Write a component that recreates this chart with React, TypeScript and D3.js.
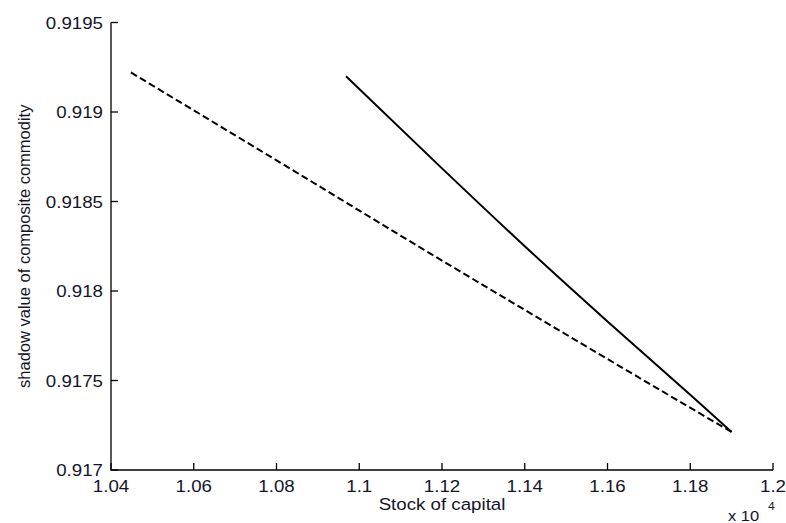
import React from 'react';
import * as d3 from 'd3';

// x values are in units of 10^4
const solidX = [1.0968, 1.12, 1.14, 1.16, 1.18, 1.19];
const solidY = [0.9192, 0.918685, 0.91825, 0.91783, 0.91742, 0.917212];

const dashX = [1.0448, 1.08, 1.12, 1.1393, 1.16, 1.19];
const dashY = [0.919221, 0.91873, 0.91817, 0.917904, 0.91762, 0.917212];

const xTicks = [1.04, 1.06, 1.08, 1.1, 1.12, 1.14, 1.16, 1.18, 1.2];
const xTickLabels = ['1.04', '1.06', '1.08', '1.1', '1.12', '1.14', '1.16', '1.18', '1.2'];
const yTicks = [0.917, 0.9175, 0.918, 0.9185, 0.919, 0.9195];
const yTickLabels = ['0.917', '0.9175', '0.918', '0.9185', '0.919', '0.9195'];

const W = 786;
const H = 523;
const margin = { top: 22.5, right: 13, bottom: 53, left: 111 };
const font = '"Liberation Sans", Arial, sans-serif';
const sx = 1.1; // reference text looks a bit wider than tall

const App = () => {
  const x = d3.scaleLinear().domain([1.04, 1.2]).range([margin.left, W - margin.right]);
  const y = d3.scaleLinear().domain([0.917, 0.9195]).range([H - margin.bottom, margin.top]);

  const path = (xs: number[], ys: number[]) =>
    d3
      .line<[number, number]>()
      .x(d => x(d[0]))
      .y(d => y(d[1]))
      .curve(d3.curveMonotoneX)(xs.map((v, i) => [v, ys[i]] as [number, number])) || '';

  const [x0, x1] = x.range();
  const [y0, y1] = y.range();

  return (
    <svg
      width={W}
      height={H}
      style={{ position: 'absolute', left: 0, top: 0, background: '#fff' }}
      fontFamily={font}
    >
      {/* axes */}
      <path d={`M${x0},${y1}V${y0}H${x1}`} fill="none" stroke="#000" strokeWidth={1.3} />
      {yTicks.map((t, i) => (
        <g key={'y' + i}>
          <line x1={x0} x2={x0 + 7} y1={y(t)} y2={y(t)} stroke="#000" strokeWidth={1.3} />
          <text
            transform={`translate(${x0 - 8},${y(t) + 6}) scale(${sx},1)`}
            textAnchor="end"
            fontSize={17}
            fill="#15152a"
          >
            {yTickLabels[i]}
          </text>
        </g>
      ))}
      {xTicks.map((t, i) => (
        <g key={'x' + i}>
          <line x1={x(t)} x2={x(t)} y1={y0} y2={y0 - 7} stroke="#000" strokeWidth={1.3} />
          <text
            transform={`translate(${x(t)},${y0 + 22}) scale(${sx},1)`}
            textAnchor="middle"
            fontSize={17}
            fill="#15152a"
          >
            {xTickLabels[i]}
          </text>
        </g>
      ))}

      {/* exponent */}
      <text transform={`translate(728,521) scale(${sx},1)`} fontSize={15} fill="#15152a">
        x 10
      </text>
      <text transform={`translate(768,510) scale(${sx},1)`} fontSize={11} fill="#15152a">
        4
      </text>

      {/* axis labels */}
      <text
        transform={`translate(${(x0 + x1) / 2},510) scale(${sx},1)`}
        textAnchor="middle"
        fontSize={17}
        fill="#15152a"
      >
        Stock of capital
      </text>
      <text
        transform={`translate(30,${(y0 + y1) / 2}) rotate(-90)`}
        textAnchor="middle"
        fontSize={16.5}
        fill="#15152a"
      >
        shadow value of composite commodity
      </text>

      {/* series */}
      <path d={path(dashX, dashY)} fill="none" stroke="#000" strokeWidth={2} strokeDasharray="7,3.5" />
      <path d={path(solidX, solidY)} fill="none" stroke="#000" strokeWidth={2} />
    </svg>
  );
};

export default App;
